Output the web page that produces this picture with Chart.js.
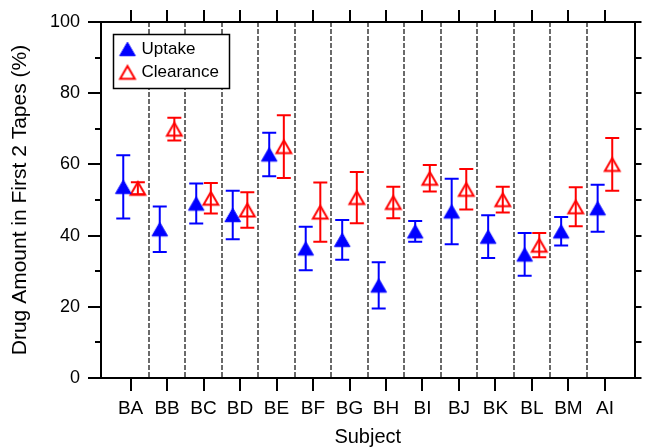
<!DOCTYPE html>
<html><head><meta charset="utf-8">
<script src="https://cdn.jsdelivr.net/npm/chart.js@4/dist/chart.umd.min.js"></script>
<style>html,body{margin:0;padding:0;background:#fff}</style>
</head><body>
<canvas id="c" width="645" height="447" style="display:block;width:645px;height:447px"></canvas>
<script>
// ---- data ----
const categories = ['BA','BB','BC','BD','BE','BF','BG','BH','BI','BJ','BK','BL','BM','AI'];
const uptake       = [53.7, 41.8, 49.0, 45.8, 62.8, 36.4, 38.8, 26.0, 41.2, 46.8, 39.7, 34.7, 41.2, 47.7];
const uptakeErr    = [ 8.9,  6.4,  5.6,  6.8,  6.1,  6.1,  5.6,  6.5,  2.9,  9.2,  6.0,  6.0,  4.0,  6.6];
const clearance    = [53.3, 69.9, 50.5, 47.2, 65.0, 46.6, 50.7, 49.3, 56.1, 53.0, 50.1, 37.3, 48.1, 60.0];
const clearanceErr = [ 1.7,  3.2,  4.3,  5.0,  8.8,  8.3,  7.2,  4.4,  3.7,  5.7,  3.6,  3.4,  5.5,  7.4];
const seriesNames  = ['Uptake', 'Clearance'];
const yTitle = 'Drug Amount in First 2 Tapes (%)';
const xTitle = 'Subject';

const X_MIN = -0.81, X_MAX = 13.81, SHIFT = 0.2;
const FONT = '"Liberation Sans", Arial, Helvetica, sans-serif';
Chart.defaults.font.family = FONT;
Chart.defaults.color = '#000';

const idx = categories.map((_, i) => i);
const catTicks = s => { s.ticks = idx.map(v => ({value: v})); };
const sepTicks = s => { s.ticks = idx.slice(0, -1).map(v => ({value: v + 0.5})); };

// triangle marker images, centred on their bounding box
function triangleMarker(r, fill, stroke, lw) {
  const cv = document.createElement('canvas');
  cv.width = 20; cv.height = 18;
  const c = cv.getContext('2d');
  const h = 1.5 * r, w = Math.sqrt(3) * r, x = 10, y = 9;
  c.beginPath();
  c.moveTo(x, y - h / 2);
  c.lineTo(x + w / 2, y + h / 2);
  c.lineTo(x - w / 2, y + h / 2);
  c.closePath();
  if (fill) { c.fillStyle = fill; c.fill(); }
  if (stroke) { c.strokeStyle = stroke; c.lineWidth = lw; c.lineJoin = 'miter'; c.stroke(); }
  return cv;
}
const upMarker = triangleMarker(9, '#0000ff', '#0000ff', 1);
const clMarker = triangleMarker(8.5, null, '#ff0000', 2);

const errorBars = {
  id: 'errorBars',
  beforeDatasetsDraw(chart) {
    const {ctx} = chart, x = chart.scales.x, y = chart.scales.y;
    chart.data.datasets.forEach(ds => {
      ctx.save();
      ctx.strokeStyle = ds.borderColor;
      ctx.lineWidth = 2;
      ds.data.forEach(p => {
        const px = x.getPixelForValue(p.x);
        const top = y.getPixelForValue(p.y + p.err);
        const bot = y.getPixelForValue(p.y - p.err);
        ctx.beginPath();
        ctx.moveTo(px, top); ctx.lineTo(px, bot);
        ctx.moveTo(px - 7, top); ctx.lineTo(px + 7, top);
        ctx.moveTo(px - 7, bot); ctx.lineTo(px + 7, bot);
        ctx.stroke();
      });
      ctx.restore();
    });
  }
};

const boxLegend = {
  id: 'boxLegend',
  afterDatasetsDraw(chart) {
    const ctx = chart.ctx, a = chart.chartArea;
    const bx = a.left + 12.5, by = a.top + 12.5, bw = 116, bh = 54;
    ctx.save();
    ctx.fillStyle = '#fff'; ctx.fillRect(bx, by, bw, bh);
    ctx.strokeStyle = '#000'; ctx.lineWidth = 1.5; ctx.strokeRect(bx, by, bw, bh);
    chart.data.datasets.forEach((ds, i) => {
      const cy = by + 14.5 + i * 23.3;
      const img = ds.pointStyle;
      ctx.drawImage(img, bx + 14 - img.width / 2, cy - img.height / 2);
      ctx.fillStyle = '#000'; ctx.font = '17px ' + FONT;
      ctx.textBaseline = 'middle'; ctx.textAlign = 'left';
      ctx.fillText(ds.label, bx + 28, cy);
    });
    ctx.restore();
  }
};

const blackGrid = len => ({drawOnChartArea: false, drawTicks: true, tickLength: len, tickWidth: 2, tickColor: '#000', color: '#000', lineWidth: 2});

new Chart(document.getElementById('c'), {
  type: 'scatter',
  data: {
    datasets: [
      {label: seriesNames[0], data: idx.map(i => ({x: i - SHIFT, y: uptake[i], err: uptakeErr[i]})),
       pointStyle: upMarker, pointRadius: 9, backgroundColor: '#0000ff', borderColor: '#0000ff', borderWidth: 1, showLine: false},
      {label: seriesNames[1], data: idx.map(i => ({x: i + SHIFT, y: clearance[i], err: clearanceErr[i]})),
       pointStyle: clMarker, pointRadius: 8.5, backgroundColor: 'rgba(0,0,0,0)', borderColor: '#ff0000', borderWidth: 2, showLine: false}
    ]
  },
  options: {
    responsive: false, animation: false, devicePixelRatio: 1, events: [],
    layout: {padding: 0},
    plugins: {legend: {display: false}, tooltip: {enabled: false}},
    scales: {
      x: {type: 'linear', position: 'bottom', min: X_MIN, max: X_MAX, bounds: 'data', weight: 1,
          afterBuildTicks: catTicks, afterFit: s => { s.height = 69; },
          ticks: {autoSkip: false, maxRotation: 0, minRotation: 0, padding: 6, font: {size: 19},
                  callback: v => categories[v] ?? ''},
          grid: blackGrid(13), border: {display: true, color: '#000', width: 2},
          title: {display: true, text: xTitle, font: {size: 20, lineHeight: 1}, padding: {top: 0, bottom: 0}}},
      xSep: {type: 'linear', position: 'bottom', min: X_MIN, max: X_MAX, bounds: 'data', weight: 0,
             afterBuildTicks: sepTicks, afterFit: s => { s.height = 0; },
             ticks: {display: false},
             grid: {drawOnChartArea: true, drawTicks: false, color: '#6a6a6a', lineWidth: 2},
             border: {display: false, dash: [5, 2]}},
      xTop: {type: 'linear', position: 'top', min: X_MIN, max: X_MAX, bounds: 'data',
             afterBuildTicks: catTicks, afterFit: s => { s.height = 22; },
             ticks: {display: false}, grid: blackGrid(12), border: {color: '#000', width: 2}},
      y: {position: 'left', min: 0, max: 100, weight: 1, afterFit: s => { s.width = 101; },
          ticks: {stepSize: 20, padding: 8, font: {size: 18}},
          grid: blackGrid(13), border: {color: '#000', width: 2},
          title: {display: true, text: yTitle, font: {size: 21, lineHeight: 1}, padding: {top: 10, bottom: 0}}},
      yMinor: {position: 'left', min: 0, max: 100, weight: 0, afterFit: s => { s.width = 0; },
               ticks: {stepSize: 10, display: false}, grid: blackGrid(6), border: {display: false}},
      yRight: {position: 'right', min: 0, max: 100, afterFit: s => { s.width = 10; },
               ticks: {stepSize: 10, display: false}, grid: blackGrid(7), border: {color: '#000', width: 2}}
    }
  },
  plugins: [errorBars, boxLegend]
});
</script>
</body></html>
